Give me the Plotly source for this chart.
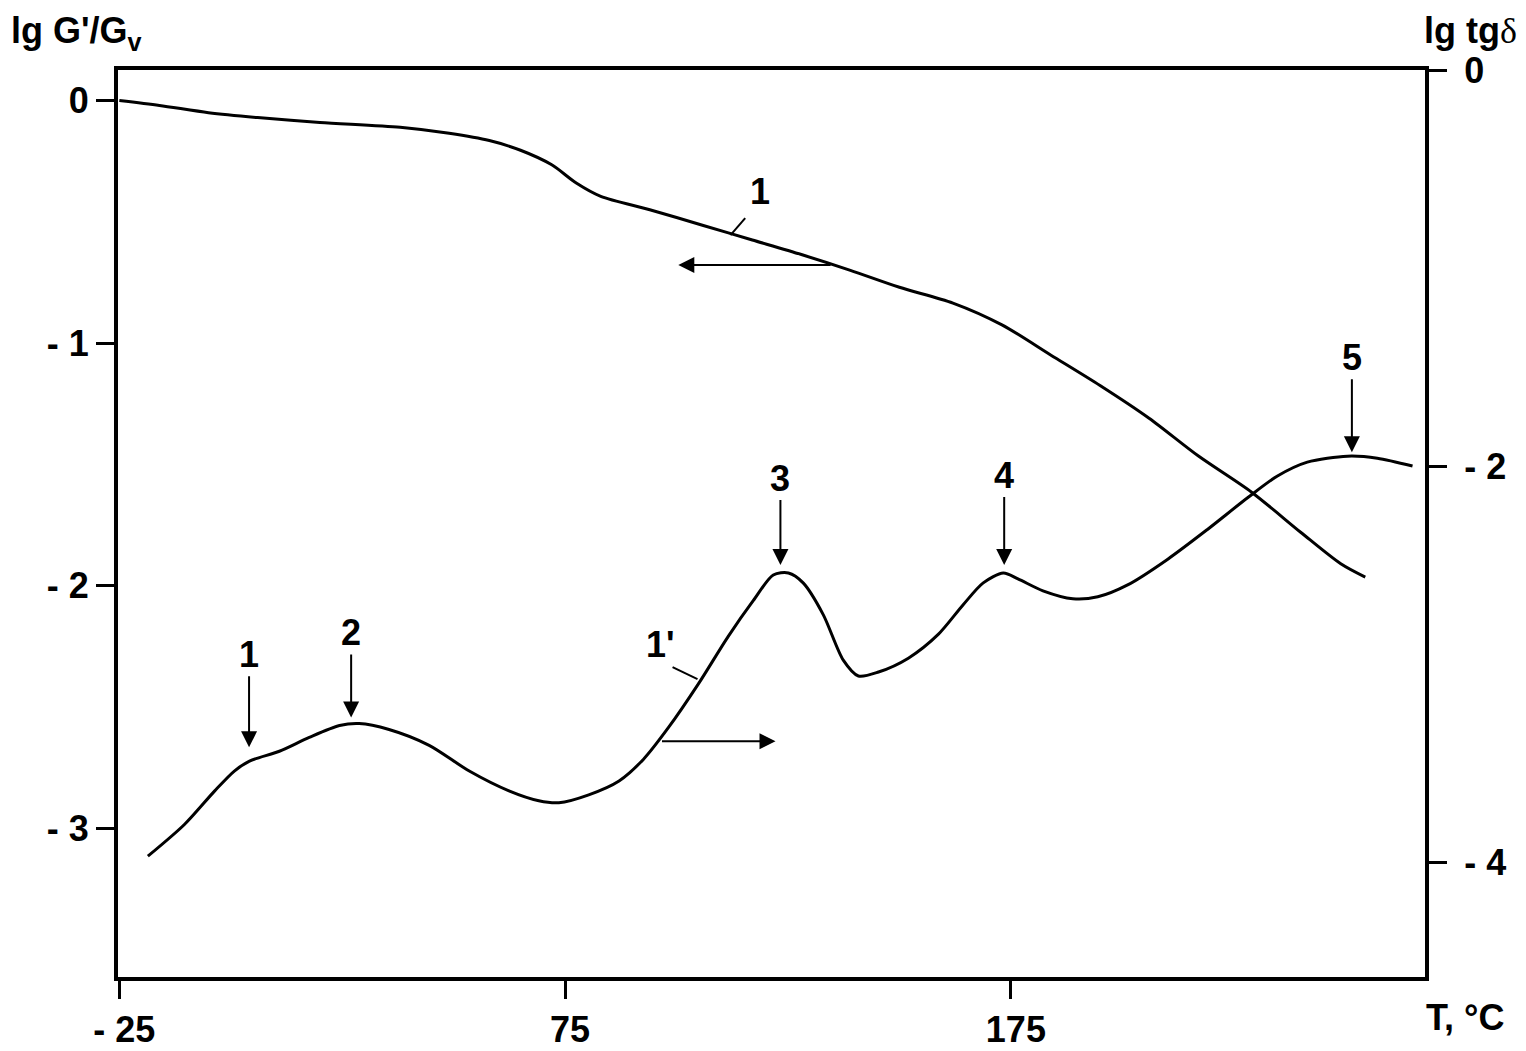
import plotly.graph_objects as go

# ---- data ----
T_g = [-25, -16, -5, 6, 20, 38, 49, 58, 65, 72, 77.5, 83, 94, 106, 117, 128,
       139, 150, 162, 173, 184, 195, 206, 217, 229, 240, 249, 254.5]
lgG = [0.0, -0.02, -0.05, -0.07, -0.09, -0.11, -0.135, -0.165, -0.205, -0.265,
       -0.34, -0.395, -0.45, -0.515, -0.575, -0.635, -0.70, -0.77, -0.835,
       -0.925, -1.05, -1.175, -1.31, -1.465, -1.615, -1.78, -1.91, -1.965]

T_t = [-18.6, -10.4, -3.6, 0.8, 4.2, 10.9, 17.6, 24.4, 28.8, 35.5, 44.5, 53.5,
       62.4, 69.1, 73.6, 80.3, 87.1, 92.6, 98.2, 104.9, 111.6, 117.2, 121.7,
       125.1, 128.4, 132.9, 137.4, 140.8, 145.3, 152.0, 158.7, 164.3, 168.8,
       173.3, 176.6, 182.2, 188.9, 194.5, 201.2, 210.2, 219.1, 228.1, 234.8,
       241.5, 250.5, 257.2, 265.1]
lgTg = [-3.97, -3.81, -3.64, -3.54, -3.49, -3.44, -3.37, -3.31, -3.30, -3.33,
        -3.41, -3.54, -3.64, -3.69, -3.70, -3.66, -3.59, -3.48, -3.32, -3.10,
        -2.86, -2.68, -2.55, -2.54, -2.59, -2.75, -2.98, -3.06, -3.04, -2.97,
        -2.85, -2.70, -2.59, -2.54, -2.57, -2.63, -2.67, -2.66, -2.60, -2.47,
        -2.32, -2.16, -2.05, -1.98, -1.95, -1.96, -2.00]

x_ticks = [-25, 75, 175]
x_ticktext = ["- 25", "75", "175"]
yl_ticks = [0, -1, -2, -3]
yl_ticktext = ["0", "- 1", "- 2", "- 3"]
yr_ticks = [0, -2, -4]
yr_ticktext = ["0", "- 2", "- 4"]

# transition peaks: label, T, lg tg at arrow tip
peak_labels = ["1", "2", "3", "4", "5"]
peak_T = [4.1, 27.0, 123.3, 173.5, 251.5]
peak_tip = [-3.42, -3.27, -2.5, -2.5, -1.93]
peak_offset = [-93, -85, -87, -90, -95]

FONT = "Liberation Sans, Arial, sans-serif"

fig = go.Figure()
fig.add_trace(go.Scatter(x=T_g, y=lgG, mode="lines",
                         line=dict(color="black", width=3, shape="spline", smoothing=0.8),
                         showlegend=False, hoverinfo="skip"))
fig.add_trace(go.Scatter(x=T_t, y=lgTg, mode="lines", yaxis="y2",
                         line=dict(color="black", width=3, shape="spline", smoothing=0.8),
                         showlegend=False, hoverinfo="skip"))

tickfont = dict(family=FONT, size=36, color="black", weight="bold")

fig.update_layout(
    width=1518, height=1043,
    margin=dict(l=110, r=101, t=62, b=74),
    paper_bgcolor="white", plot_bgcolor="white",
    xaxis=dict(range=[-25.3, 267.9], tickvals=x_ticks, ticktext=x_ticktext,
               showline=True, linewidth=4, linecolor="black", mirror=True,
               ticks="outside", ticklen=18, tickwidth=3, tickcolor="black",
               showgrid=False, zeroline=False, tickfont=tickfont, automargin=False,
               ticklabelstandoff=0, ticklabelshift=5),
    yaxis=dict(range=[-3.614, 0.126], tickvals=yl_ticks, ticktext=yl_ticktext,
               showline=True, linewidth=4, linecolor="black", automargin=False,
               ticks="outside", ticklen=18, tickwidth=3, tickcolor="black",
               showgrid=False, zeroline=False, tickfont=tickfont,
               ticklabelstandoff=0),
    yaxis2=dict(range=[-4.58, 0.0], tickvals=yr_ticks, ticktext=yr_ticktext,
                overlaying="y", side="right", automargin=False,
                showline=True, linewidth=4, linecolor="black",
                ticks="outside", ticklen=18, tickwidth=3, tickcolor="black",
                showgrid=False, zeroline=False, tickfont=tickfont,
                ticklabelstandoff=10),
)

ann = []
# axis titles
ann.append(dict(xref="paper", yref="paper", x=-0.0835, y=1.068, xanchor="left", yanchor="top",
                text="lg G'/G<sub>v</sub>", showarrow=False,
                font=dict(family=FONT, size=36, color="black", weight="bold")))
ann.append(dict(xref="paper", yref="paper", x=1.072, y=1.068, xanchor="right", yanchor="top",
                text="lg tg<span style='font-family:Liberation Serif;font-weight:normal'>δ</span>",
                showarrow=False,
                font=dict(family=FONT, size=36, color="black", weight="bold")))
ann.append(dict(xref="paper", yref="paper", x=1.0306, y=-0.045, xanchor="center", yanchor="middle",
                text="T, °C", showarrow=False,
                font=dict(family=FONT, size=36, color="black", weight="bold")))

# peak arrows
for lab, tx, ty, off in zip(peak_labels, peak_T, peak_tip, peak_offset):
    ann.append(dict(x=tx, y=ty, xref="x", yref="y2", text=lab, showarrow=True,
                    ax=0, ay=off, arrowhead=2, arrowsize=1.6, arrowwidth=2,
                    arrowcolor="black", standoff=0,
                    font=dict(family=FONT, size=36, color="black", weight="bold")))

# curve direction arrows
ann.append(dict(x=100.4, y=-0.678, xref="x", yref="y", ax=134.9, ay=-0.678,
                axref="x", ayref="y", text="", showarrow=True, arrowhead=2,
                arrowsize=1.6, arrowwidth=2, arrowcolor="black"))
ann.append(dict(x=122.2, y=-3.39, xref="x", yref="y2", ax=96.4, ay=-3.39,
                axref="x", ayref="y2", text="", showarrow=True, arrowhead=2,
                arrowsize=1.6, arrowwidth=2, arrowcolor="black"))

# curve labels
ann.append(dict(x=118.8, y=-0.377, xref="x", yref="y", text="1", showarrow=False,
                font=dict(family=FONT, size=36, color="black", weight="bold")))
ann.append(dict(x=96.4, y=-2.90, xref="x", yref="y2", text="1'", showarrow=False,
                font=dict(family=FONT, size=36, color="black", weight="bold")))

shapes = [
    dict(type="line", xref="x", yref="y", x0=115.4, y0=-0.485, x1=112.1, y1=-0.555,
         line=dict(color="black", width=2)),
    dict(type="line", xref="x", yref="y2", x0=99.1, y0=-3.015, x1=104.7, y1=-3.076,
         line=dict(color="black", width=2)),
]

fig.update_layout(annotations=ann, shapes=shapes)
fig.write_html("out.html")
